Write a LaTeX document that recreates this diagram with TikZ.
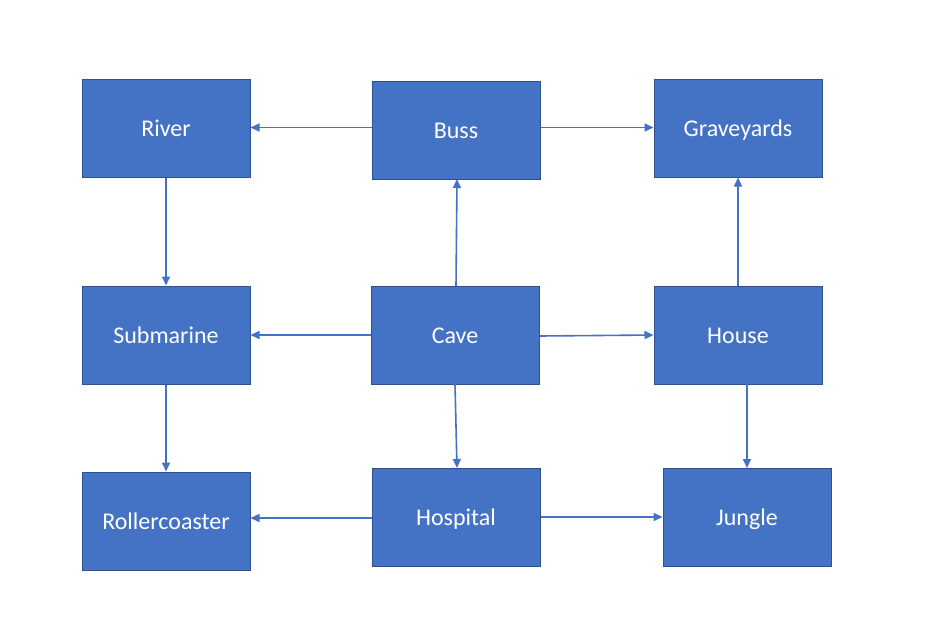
\documentclass[tikz,border=0pt]{standalone}
\usepackage{fontspec}
\setmainfont{Carlito}
\usetikzlibrary{arrows.meta}
\definecolor{boxfill}{HTML}{4472C4}
\definecolor{boxline}{HTML}{2F528F}
\tikzset{
  box/.style={draw=boxline, line width=1pt, fill=boxfill, text=white, inner sep=0pt,
    font=\fontsize{24}{28}\selectfont, text height=16.5pt, text depth=0pt},
  link/.style={draw=boxfill, line width=1.6pt, -{Triangle[length=9pt,width=8pt]}}
}
\newcommand{\bx}[6]{%
  \node[box, minimum width=#4-#2, minimum height=#5-#3] (#1) at ({(#2+#4)/2},{(#3+#5)/2}) {#6};}
\begin{document}
\begin{tikzpicture}[x=1pt,y=-1pt]
\useasboundingbox (0,0) rectangle (932,641);
\bx{river}{82}{79}{250}{177}{River}
\bx{buss}{372}{81}{540}{179}{Buss}
\bx{grave}{654}{79}{822}{177}{Graveyards}
\bx{sub}{82}{286}{250}{384}{Submarine}
\bx{cave}{371}{286}{539}{384}{Cave}
\bx{house}{654}{286}{822}{384}{House}
\bx{roller}{82}{472}{250}{570}{Rollercoaster}
\bx{hosp}{372}{468}{540}{566}{Hospital}
\bx{jungle}{663}{468}{831}{566}{Jungle}
% connectors
\draw[link] (buss.west |- 0,127.5) -- (river.east |- 0,127.5);
\draw[link] (buss.east |- 0,127.5) -- (grave.west |- 0,127.5);
\draw[link] (456,286) -- (457,179);
\draw[link] (river.south) -- (sub.north);
\draw[link] (cave.west |- 0,335) -- (sub.east |- 0,335);
\draw[link] (cave.east |- 0,336) -- (house.west |- 0,335);
\draw[link] (house.north) -- (grave.south);
\draw[link] (sub.south) -- (roller.north);
\draw[link] (455,384) -- (457,468);
\draw[link] (747,384) -- (747,468);
\draw[link] (hosp.west |- 0,518) -- (roller.east |- 0,518);
\draw[link] (hosp.east |- 0,517) -- (jungle.west |- 0,517);
\end{tikzpicture}
\end{document}
